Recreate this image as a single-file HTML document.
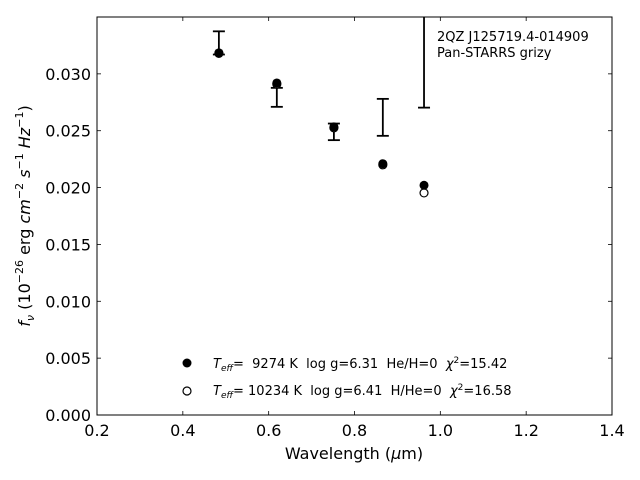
<!DOCTYPE html>
<html><head><meta charset="utf-8"><style>
body{margin:0;background:#fff}
svg{display:block;font-family:"DejaVu Sans","Liberation Sans",sans-serif}
.pre{white-space:pre}
</style></head><body>
<svg id="chart" width="640" height="480" viewBox="0 0 640 480"></svg>
<script>
const xTicks=[0.2,0.4,0.6,0.8,1.0,1.2,1.4];
const xTickLabels=["0.2","0.4","0.6","0.8","1.0","1.2","1.4"];
const yTicks=[0,0.005,0.010,0.015,0.020,0.025,0.030];
const yTickLabels=["0.000","0.005","0.010","0.015","0.020","0.025","0.030"];
const bandWave=[0.484,0.619,0.752,0.866,0.962];
const obsLow=[0.0317,0.0271,0.02417,0.02455,0.02703];
const obsHigh=[0.03374,0.02877,0.02563,0.0278,0.0400];
const model1=[0.03185,0.0292,0.02534,0.0221,0.0202];
const model2=[0.0318,0.0291,0.02525,0.0220,0.01953];

const NS="http://www.w3.org/2000/svg";
const svg=document.getElementById('chart');
const L=97,R=612,T=17,B=415;
const xs=v=>L+(v-0.2)/(1.2)*(R-L);
const ys=v=>B-v/0.035*(B-T);
function el(tag,attrs,parent){const e=document.createElementNS(NS,tag);for(const k in attrs)e.setAttribute(k,attrs[k]);(parent||svg).appendChild(e);return e;}
const defs=el('defs',{});
const cp=el('clipPath',{id:'clip'},defs);el('rect',{x:L,y:T,width:R-L,height:B-T},cp);

xTicks.forEach((t,i)=>{
  const x=xs(t);
  const a=el('line',{x1:x,y1:B,x2:x,y2:B-4,stroke:'#000','stroke-width':0.8});
  
  const b=el('line',{x1:x,y1:T,x2:x,y2:T+4,stroke:'#000','stroke-width':0.8});
  
  const tx=el('text',{x:x,y:B+21,'font-size':16,'text-anchor':'middle'});tx.textContent=xTickLabels[i];
  
});
yTicks.forEach((t,i)=>{
  const y=ys(t);
  const a=el('line',{x1:L,y1:y,x2:L+4,y2:y,stroke:'#000','stroke-width':0.8});
  
  const b=el('line',{x1:R,y1:y,x2:R-4,y2:y,stroke:'#000','stroke-width':0.8});
  
  const tx=el('text',{x:L-6,y:y+6,'font-size':16,'text-anchor':'end'});tx.textContent=yTickLabels[i];
  
});

const g=el('g',{'clip-path':'url(#clip)'});
bandWave.forEach((w,i)=>{
  const x=xs(w),y1=ys(obsHigh[i]),y2=ys(obsLow[i]);
  const eg=el('g',{},g);
  
  el('line',{x1:x,y1:y1,x2:x,y2:y2,stroke:'#000','stroke-width':1.8},eg);
  el('line',{x1:x-6,y1:y1,x2:x+6,y2:y1,stroke:'#000','stroke-width':1.8},eg);
  el('line',{x1:x-6,y1:y2,x2:x+6,y2:y2,stroke:'#000','stroke-width':1.8},eg);
});
bandWave.forEach((w,i)=>{
  const c=el('circle',{cx:xs(w),cy:ys(model2[i]),r:4,fill:'#fff',stroke:'#000','stroke-width':1.2});
  
});
bandWave.forEach((w,i)=>{
  const c=el('circle',{cx:xs(w),cy:ys(model1[i]),r:4.5,fill:'#000'});
  
});
</script>
<svg width="640" height="480" style="position:absolute;left:0;top:0">
  <rect x="97" y="17" width="515" height="398" fill="none" stroke="#000" stroke-width="1"/>
  <text x="354" y="459" font-size="16" text-anchor="middle">Wavelength (<tspan font-style="italic">μ</tspan>m)</text>
  <text transform="translate(30,216) rotate(-90)" font-size="16" text-anchor="middle"><tspan font-style="italic">f</tspan><tspan font-style="italic" font-size="11" dy="4">ν</tspan><tspan dy="-4"> (10</tspan><tspan font-size="11" dy="-7">−26</tspan><tspan dy="7"> erg </tspan><tspan font-style="italic">cm</tspan><tspan font-size="11" dy="-7">−2</tspan><tspan dy="7" font-style="italic"> s</tspan><tspan font-size="11" dy="-7">−1</tspan><tspan dy="7" font-style="italic"> Hz</tspan><tspan font-size="11" dy="-7">−1</tspan><tspan dy="7">)</tspan></text>
  <text x="437" y="41" font-size="13">2QZ J125719.4-014909</text>
  <text x="437" y="57" font-size="13">Pan-STARRS grizy</text>
  <g>
    <circle cx="187" cy="363" r="4.5" fill="#000"/>
    <text class="pre" x="213" y="368" font-size="13"><tspan font-style="italic">T</tspan><tspan font-style="italic" font-size="9" dy="3">eff</tspan><tspan dy="-3">=  9274 K  log g=6.31  He/H=0  </tspan><tspan font-style="italic">χ</tspan><tspan font-size="9" dy="-5">2</tspan><tspan dy="5">=15.42</tspan></text>
    <circle cx="187" cy="391" r="4" fill="#fff" stroke="#000" stroke-width="1.2"/>
    <text class="pre" x="213" y="395" font-size="13"><tspan font-style="italic">T</tspan><tspan font-style="italic" font-size="9" dy="3">eff</tspan><tspan dy="-3">= 10234 K  log g=6.41  H/He=0  </tspan><tspan font-style="italic">χ</tspan><tspan font-size="9" dy="-5">2</tspan><tspan dy="5">=16.58</tspan></text>
  </g>
</svg>
</body></html>
